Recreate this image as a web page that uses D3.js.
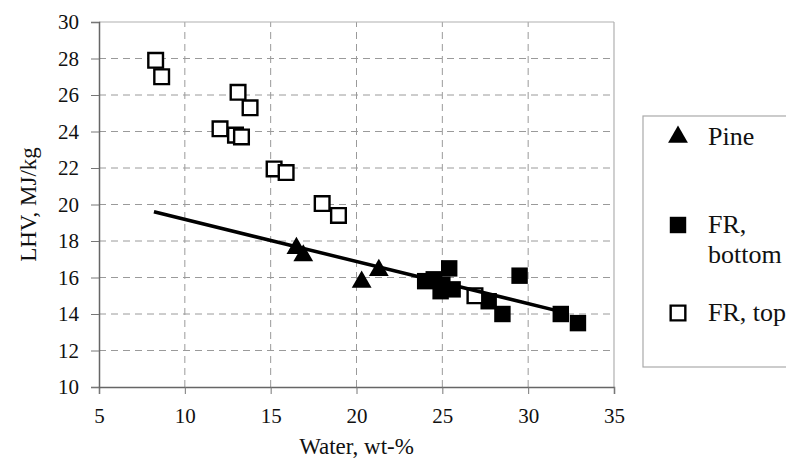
<!DOCTYPE html>
<html>
<head>
<meta charset="utf-8">
<script src="https://cdn.jsdelivr.net/npm/d3@7"></script>
<style>
  html, body { margin: 0; padding: 0; background: #fff; }
  svg { display: block; }
  svg text { font-family: "Times New Roman", "Liberation Serif", Times, serif !important; fill: #111; }
</style>
</head>
<body>
<svg id="chart" width="786" height="459"></svg>
<script>
// ---- data ----
const pineWater = [16.5, 16.9, 20.3, 21.3];
const pineLHV   = [17.6, 17.2, 15.75, 16.4];

const frBottomWater = [24.0, 24.5, 25.0, 24.9, 25.6, 25.4, 27.7, 28.5, 29.5, 31.9, 32.9];
const frBottomLHV   = [15.8, 15.9, 15.6, 15.25, 15.35, 16.5, 14.7, 14.0, 16.1, 14.0, 13.5];

const frTopWater = [8.3, 8.65, 13.1, 13.8, 12.05, 12.95, 13.3, 15.2, 15.9, 18.0, 18.95, 26.9];
const frTopLHV   = [27.9, 27.0, 26.15, 25.3, 24.15, 23.8, 23.7, 21.95, 21.75, 20.05, 19.4, 15.0];

const trendWater = [8.2, 31.6];
const trendLHV   = [19.6, 14.2];

const xTicks = [5, 10, 15, 20, 25, 30, 35];
const yTicks = [10, 12, 14, 16, 18, 20, 22, 24, 26, 28, 30];

const legendLabels = [["Pine"], ["FR,", "bottom"], ["FR, top"]];

// ---- layout ----
const FONT = '"Times New Roman", "Liberation Serif", Times, serif';
const svg = d3.select("#chart");
const x = d3.scaleLinear().domain([5, 35]).range([99, 614]);
const y = d3.scaleLinear().domain([10, 30]).range([387, 22]);

// gridlines
const grid = svg.append("g");
grid.selectAll("line.h").data(yTicks.filter(d => d > 10 && d < 30)).enter().append("line")
  .attr("x1", x(5)).attr("x2", x(35)).attr("y1", d => y(d)).attr("y2", d => y(d))
  .attr("stroke", "#9a9a9a").attr("stroke-width", 1).attr("stroke-dasharray", "7,5");
grid.selectAll("line.v").data(xTicks.filter(d => d > 5 && d < 35)).enter().append("line")
  .attr("y1", y(10)).attr("y2", y(30)).attr("x1", d => x(d)).attr("x2", d => x(d))
  .attr("stroke", "#9a9a9a").attr("stroke-width", 1).attr("stroke-dasharray", "7,5");

// top & right border
svg.append("line").attr("x1", x(5)).attr("x2", x(35)).attr("y1", y(30)).attr("y2", y(30))
  .attr("stroke", "#b0b0b0").attr("stroke-width", 1.2);
svg.append("line").attr("x1", x(35)).attr("x2", x(35)).attr("y1", y(30)).attr("y2", y(10))
  .attr("stroke", "#b0b0b0").attr("stroke-width", 1.2);

// axes
const xAxis = d3.axisBottom(x).tickValues(xTicks).tickSize(7).tickPadding(14).tickFormat(d3.format("d"));
const yAxis = d3.axisLeft(y).tickValues(yTicks).tickSize(8).tickPadding(12).tickFormat(d3.format("d"));
const gx = svg.append("g").attr("transform", `translate(0,${y(10)})`).call(xAxis);
const gy = svg.append("g").attr("transform", `translate(${x(5)},0)`).call(yAxis);
[gx, gy].forEach(g => {
  g.attr("font-family", FONT).attr("font-size", 21);
  g.select(".domain").attr("stroke", "#666").attr("stroke-width", 1.5);
  g.selectAll(".tick line").attr("stroke", "#777").attr("stroke-width", 1);
  g.selectAll(".tick text").attr("font-family", FONT).attr("font-size", 21).attr("fill", "#111");
});

// axis titles
svg.append("text").attr("x", (x(5) + x(35)) / 2).attr("y", 454).attr("text-anchor", "middle")
  .attr("font-family", FONT).attr("font-size", 23).text("Water, wt-%");
svg.append("text").attr("transform", `translate(36,${(y(10) + y(30)) / 2}) rotate(-90)`)
  .attr("text-anchor", "middle").attr("font-family", FONT).attr("font-size", 23).text("LHV, MJ/kg");

// markers
const tri = d3.symbol().type(d3.symbolTriangle).size(170);
const sq = d3.symbol().type(d3.symbolSquare).size(270);
const sqOpen = d3.symbol().type(d3.symbolSquare).size(215);

const marks = svg.append("g");
marks.selectAll("path.fb").data(d3.zip(frBottomWater, frBottomLHV)).enter().append("path")
  .attr("d", sq).attr("transform", d => `translate(${x(d[0])},${y(d[1])})`).attr("fill", "#000");
marks.selectAll("path.ft").data(d3.zip(frTopWater, frTopLHV)).enter().append("path")
  .attr("d", sqOpen).attr("transform", d => `translate(${x(d[0])},${y(d[1])})`)
  .attr("fill", "#fff").attr("stroke", "#000").attr("stroke-width", 2.4);
marks.selectAll("path.p").data(d3.zip(pineWater, pineLHV)).enter().append("path")
  .attr("d", tri).attr("transform", d => `translate(${x(d[0])},${y(d[1])})`).attr("fill", "#000");

// trend line
svg.append("path").datum(d3.zip(trendWater, trendLHV))
  .attr("d", d3.line().x(d => x(d[0])).y(d => y(d[1])))
  .attr("stroke", "#000").attr("stroke-width", 3.5).attr("fill", "none");

// legend
const lg = svg.append("g");
lg.append("rect").attr("x", 643).attr("y", 116).attr("width", 160).attr("height", 251)
  .attr("fill", "#fff").attr("stroke", "#aaa").attr("stroke-width", 1.2);
const legY = [137, 225, 313];
lg.append("path").attr("d", tri).attr("transform", `translate(678,${legY[0]})`).attr("fill", "#000");
lg.append("path").attr("d", sq).attr("transform", `translate(678,${legY[1]})`).attr("fill", "#000");
lg.append("path").attr("d", sqOpen).attr("transform", `translate(678,${legY[2]})`)
  .attr("fill", "#fff").attr("stroke", "#000").attr("stroke-width", 2.4);
legendLabels.forEach((lines, i) => {
  const t = lg.append("text").attr("x", 708).attr("y", legY[i] + 8)
    .attr("font-family", FONT).attr("font-size", 26);
  lines.forEach((l, j) => t.append("tspan").attr("x", 708).attr("dy", j === 0 ? 0 : 30).text(l));
});
</script>
</body>
</html>
